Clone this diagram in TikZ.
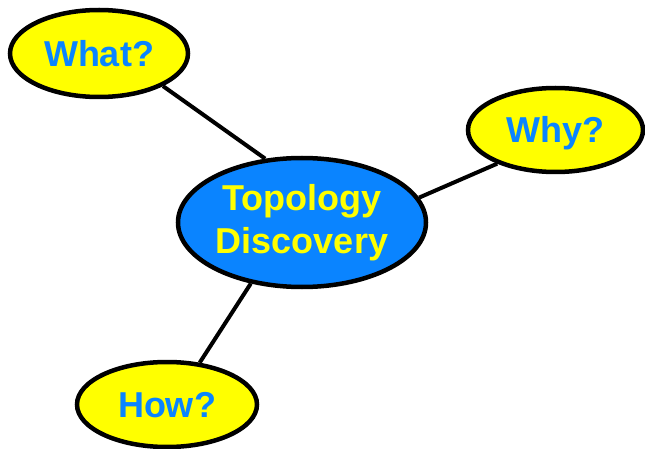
\documentclass[tikz,border=0pt]{standalone}
\usepackage{fontspec}
\setmainfont{Liberation Sans}
\usetikzlibrary{shapes.geometric,backgrounds}
\definecolor{capblue}{HTML}{0A84FF}
\definecolor{capyellow}{HTML}{FFFF00}
\tikzset{
  bubble/.style={ellipse, draw=black, line width=4.5pt, inner sep=0pt,
    font=\fontsize{36}{43}\selectfont\bfseries, align=center},
  question/.style={bubble, fill=capyellow, text=capblue,
    text height=25.8pt, text depth=0pt},
  hub/.style={bubble, fill=capblue, text=capyellow},
  link/.style={draw=black, line width=4pt}
}
\begin{document}
\begin{tikzpicture}[x=1pt,y=-1pt]
  \useasboundingbox (0,0) rectangle (645,449);
  \node[hub, minimum width=248pt, minimum height=129pt] (topo) at (302,222.5) {Topology\\Discovery};
  \node[question, minimum width=178pt, minimum height=87pt] (what) at (99,53.5) {What?};
  \node[question, minimum width=175pt, minimum height=84pt] (why) at (555.5,130) {Why?};
  \node[question, minimum width=180pt, minimum height=85pt] (how) at (167,404.5) {How?};
  \begin{pgfonlayer}{background}
    \draw[link] (what.-27) -- (topo.120);
    \draw[link] (why.210) -- (topo.12);
    \draw[link] (how.52) -- (topo.230);
  \end{pgfonlayer}
\end{tikzpicture}
\end{document}
